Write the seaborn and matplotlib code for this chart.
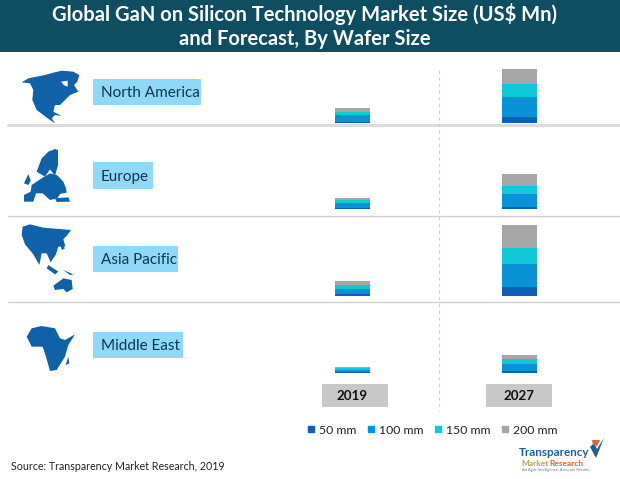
import matplotlib
matplotlib.use("Agg")
import matplotlib.pyplot as plt
from matplotlib.patches import Polygon, Rectangle
from matplotlib.lines import Line2D
import pandas as pd
import seaborn as sns

sns.set_theme(style="white")
plt.rcParams['font.family'] = ['Lato', 'DejaVu Sans']

YEARS = ["2019", "2027"]
REGIONS = ["North America", "Europe", "Asia Pacific", "Middle East"]
SIZES = ["50 mm", "100 mm", "150 mm", "200 mm"]
COLORS = ["#0f5fb4", "#0993d6", "#10c8d8", "#a6a6a6"]

# estimated heights: one list per wafer size, order 2019, 2027
NA_50, NA_100, NA_150, NA_200 = [1.5, 6.5], [7, 20], [3, 13], [3.5, 14.5]
EU_50, EU_100, EU_150, EU_200 = [1, 2], [5, 13], [3, 8], [2, 12]
AP_50, AP_100, AP_150, AP_200 = [2, 9.5], [5.5, 22.5], [4, 16], [3.5, 23.5]
ME_50, ME_100, ME_150, ME_200 = [0.8, 2], [2.2, 7], [2, 5], [1, 4]
VALUES = {
    "North America": [NA_50, NA_100, NA_150, NA_200],
    "Europe": [EU_50, EU_100, EU_150, EU_200],
    "Asia Pacific": [AP_50, AP_100, AP_150, AP_200],
    "Middle East": [ME_50, ME_100, ME_150, ME_200],
}

W, H = 620, 479
fig = plt.figure(figsize=(W / 100, H / 100), dpi=100, facecolor="white")

# full-figure pixel overlay for furniture
bg = fig.add_axes([0, 0, 1, 1], zorder=0)
bg.set_xlim(0, W)
bg.set_ylim(H, 0)
bg.axis("off")

bg.add_patch(Rectangle((0, 0), W, 52, fc="#0f4d60", ec="none"))
bg.text(305, 14, "Global GaN on Silicon Technology Market Size (US$ Mn)", color="white",
        fontsize=14.5, fontweight="bold", ha="center", va="center")
bg.text(305, 39, "and Forecast, By Wafer Size", color="white",
        fontsize=14.5, fontweight="bold", ha="center", va="center")

bg.plot([8, W], [125, 125], color="#dcdcdc", lw=2.2)
bg.plot([8, W], [216, 216], color="#d0d0d0", lw=1)
bg.plot([8, W], [302, 302], color="#d0d0d0", lw=1)
bg.plot([439, 439], [70, 411], color="#cfcfcf", lw=0.8, ls=(0, (3, 3)))

label_boxes = [(93, 79, 108, 26), (93, 162, 60, 27), (93, 246, 85, 26), (93, 332, 90, 26)]
for name, (x, y, w, h) in zip(REGIONS, label_boxes):
    bg.add_patch(Rectangle((x, y), w, h, fc="#8fd8f8", ec="none"))
    bg.text(x + 8, y + h / 2 + 1.2, name, color="#0b3850", fontsize=11, ha="left", va="center")

for x in (322, 486):
    bg.add_patch(Rectangle((x, 384), 66, 23, fc="#c8c8c8", ec="none"))

MAP = "#0f62a8"
def shapes(pts_list, ox, oy, color=MAP):
    for pts in pts_list:
        bg.add_patch(Polygon([(ox + a / 3, oy + b / 3) for a, b in pts], fc=color, ec="none"))

shapes([[(65, 97), (85, 85), (110, 80), (135, 75), (160, 68), (185, 62), (220, 65), (238, 75), (232, 95),
         (222, 105), (235, 125), (210, 135), (195, 150), (180, 165), (165, 165), (160, 185), (185, 198),
         (165, 195), (155, 205), (165, 220), (150, 210), (130, 195), (110, 180), (97, 150), (100, 120), (90, 100)]], 0, 50)
shapes([[(183, 95), (203, 92), (203, 110), (192, 106)]], 0, 50, "white")
shapes([[(165, 297), (174, 300), (174, 345), (165, 378), (150, 358), (135, 380), (110, 365), (125, 325), (145, 305)],
        [(95, 405), (125, 385), (150, 370), (172, 376), (190, 395), (198, 415), (200, 428), (180, 432), (172, 445),
         (150, 450), (128, 430), (108, 430), (100, 455), (72, 455), (72, 435), (92, 425)],
        [(165, 445), (205, 442), (210, 455), (170, 456)],
        [(72, 400), (85, 372), (92, 392), (85, 405)]], 0, 50)
shapes([[(68, 35), (90, 28), (130, 38), (213, 45), (198, 65), (190, 72), (196, 95), (175, 95), (168, 118), (152, 142),
         (140, 115), (125, 115), (118, 150), (100, 118), (75, 88), (65, 60)],
        [(145, 150), (175, 170), (165, 178), (140, 160)],
        [(190, 165), (220, 178), (210, 180)],
        [(160, 212), (190, 190), (215, 195), (218, 222), (200, 232), (190, 222), (165, 225)],
        [(180, 80), (195, 100), (185, 105)]], 0, 215)
shapes([[(80, 365), (95, 340), (125, 333), (165, 340), (180, 370), (195, 375), (225, 358), (205, 390), (195, 425),
         (170, 465), (150, 468), (138, 425), (128, 395), (95, 395)],
        [(205, 425), (208, 445), (197, 450)]], 0, 215)

bg.text(11, 466, "Source: Transparency Market Research, 2019", color="#222222", fontsize=7.7, ha="left", va="center")

# logo
bg.text(519, 452, "Transparency", color="#1f5f93", fontsize=8.4, fontweight="bold", ha="left", va="center")
bg.text(521, 463, "Market", color="#b5a84a", fontsize=6, fontweight="bold", ha="left", va="center")
bg.text(549, 463, "Research", color="#d9663a", fontsize=6, fontweight="bold", ha="left", va="center")
bg.text(522, 469.5, "An Agile Intelligence. Accurate Results", color="#667788", fontsize=2.9, ha="left", va="center")
bg.add_patch(Polygon([(590, 447), (596, 458), (604, 438), (597, 449), (594, 443)], fc="#1f5f93", ec="none"))
bg.add_patch(Polygon([(592, 440), (600, 440), (597, 446), (593, 445)], fc="#d9663a", ec="none"))

# one transparent axes per region, all on the same value scale
baselines = [123, 209, 296, 373]
AX_L, AX_W, AX_H = 269, 334, 75
axes = []
for region, base in zip(REGIONS, baselines):
    ax = fig.add_axes([AX_L / W, 1 - base / H, AX_W / W, AX_H / H], zorder=2)
    ax.patch.set_alpha(0)
    bottom = [0.0, 0.0]
    for size, color, vals in zip(SIZES, COLORS, VALUES[region]):
        df = pd.DataFrame({"year": YEARS, "value": vals})
        sns.barplot(data=df, x="year", y="value", order=YEARS, color=color, saturation=1,
                    width=0.21, bottom=bottom, ax=ax, label=size, legend=False, errorbar=None,
                    linewidth=0, edgecolor="none")
        bottom = [b + v for b, v in zip(bottom, vals)]
    ax.set_ylim(0, AX_H)
    ax.set_xlim(-0.5, 1.5)
    ax.set_xlabel("")
    ax.set_ylabel("")
    ax.set_yticks([])
    ax.tick_params(axis="x", length=0)
    sns.despine(ax=ax, left=True, bottom=True)
    ax.set_xticklabels([])
    axes.append(ax)

axes[-1].set_xticks([0, 1])
axes[-1].set_xticklabels(YEARS, fontsize=9.6, fontweight="bold", color="#111111")
axes[-1].tick_params(axis="x", pad=12.5)

handles = [Line2D([], [], ls="none", marker="s", ms=4.6, color=c) for c in COLORS]
leg = fig.legend(handles, SIZES, ncol=4, frameon=False, fontsize=8.8, handletextpad=0.25,
                 columnspacing=0.8, handlelength=0.8, loc="center left",
                 bbox_to_anchor=(295 / W, 1 - 430 / H), labelcolor="#222222")

fig.savefig("out.png", dpi=100)
